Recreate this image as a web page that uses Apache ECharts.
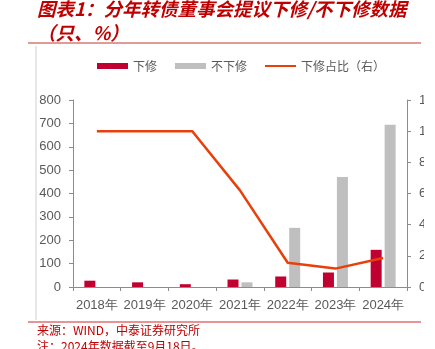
<!DOCTYPE html>
<html><head><meta charset="utf-8">
<script src="https://cdn.jsdelivr.net/npm/echarts@6/dist/echarts.min.js"></script>
<style>html,body{margin:0;padding:0;background:#fff}#c{width:435px;height:349px}</style>
</head><body><div id="c"></div>
<script>
var categories = ['2018年','2019年','2020年','2021年','2022年','2023年','2024年'];
var xiaxiu = [27, 20, 12, 32, 45, 62, 159];
var buxiaxiu = [0, 0, 0, 20, 253, 471, 694];
var ratio = [100, 100, 100, 62, 15.6, 11.8, 18.6];
var leftTicks = [0, 800, 100];
var rightTicks = [0, 120, 20];

var chart = echarts.init(document.getElementById('c'), null, {renderer:'canvas'});
var labelFont = '"Liberation Sans", Arial, sans-serif';
var axisColor = '#8c8c8c';
var textColor = '#595959';
var titleStyle = {color:'#C00000', fontSize:18.5, fontStyle:'italic', fontWeight:'bold', fontFamily:'"Noto Sans CJK SC"'};
chart.setOption({
  animation:false,
  title:[{
    text:'图表1：分年转债董事会提议下修/不下修数据',
    left:37, top:0, padding:0, textStyle:titleStyle
  },{
    text:'（只、%）',
    left:37, top:24, padding:0, textStyle:titleStyle
  },{
    text:'来源：WIND，中泰证券研究所',
    left:37, top:324, padding:0,
    textStyle:{color:'#C00000', fontSize:12, fontWeight:'normal', fontFamily:'"Noto Sans CJK SC"'}
  },{
    text:'注：2024年数据截至9月18日。',
    left:37, top:340, padding:0,
    textStyle:{color:'#C00000', fontSize:12, fontWeight:'normal', fontFamily:'"Noto Sans CJK SC"'}
  }],
  graphic:[
    {type:'line', shape:{x1:28,y1:43,x2:421,y2:43}, style:{stroke:'#C0392B', lineWidth:1.2}},
    {type:'line', shape:{x1:28,y1:322,x2:421,y2:322}, style:{stroke:'#E07070', lineWidth:1.5}},
    {type:'line', shape:{x1:36,y1:46,x2:36,y2:320}, style:{stroke:'#d0d0d0', lineWidth:1}},
    {type:'rect', shape:{x:424,y:88,width:11,height:210}, style:{fill:'#fff'}, z:100, zlevel:1}
  ],
  legend:{
    top:60, left:97, padding:0, itemWidth:31, itemHeight:6, itemGap:18,
    textStyle:{color:textColor, fontSize:12, fontFamily:'"Noto Sans CJK SC"'},
    data:[{name:'下修', icon:'rect'},{name:'不下修', icon:'rect'},
          {name:'下修占比（右）', icon:'path://M0,0 L31,0 L31,2 L0,2 Z'}]
  },
  grid:{left:73, right:28, top:100, bottom:62, containLabel:false, outerBoundsMode:'none'},
  xAxis:{
    type:'category', data:categories,
    axisLine:{lineStyle:{color:axisColor}},
    axisTick:{show:true, alignWithLabel:false, length:4, lineStyle:{color:axisColor}},
    axisLabel:{color:textColor, fontSize:13, fontFamily:labelFont, margin:12, interval:0}
  },
  yAxis:[{
    type:'value', min:leftTicks[0], max:leftTicks[1], interval:leftTicks[2],
    axisLine:{show:true, lineStyle:{color:axisColor}},
    axisTick:{show:true, length:4, lineStyle:{color:axisColor}},
    splitLine:{show:false},
    axisLabel:{color:textColor, fontSize:13, fontFamily:labelFont, margin:12}
  },{
    type:'value', min:rightTicks[0], max:rightTicks[1], interval:rightTicks[2],
    position:'right',
    axisLine:{show:true, lineStyle:{color:axisColor}},
    axisTick:{show:true, length:4, lineStyle:{color:axisColor}},
    splitLine:{show:false},
    axisLabel:{color:textColor, fontSize:13, fontFamily:labelFont, margin:12, formatter:'{value}%'}
  }],
  series:[{
    name:'下修', type:'bar', data:xiaxiu, barWidth:11, barGap:'27%',
    itemStyle:{color:'#C00030'}
  },{
    name:'不下修', type:'bar', data:buxiaxiu, barWidth:11,
    itemStyle:{color:'#BFBFBF'}
  },{
    name:'下修占比（右）', type:'line', yAxisIndex:1, data:ratio,
    symbol:'none', lineStyle:{color:'#E8400C', width:2.5}, itemStyle:{color:'#E8400C'}, z:5
  }]
});
</script></body></html>
